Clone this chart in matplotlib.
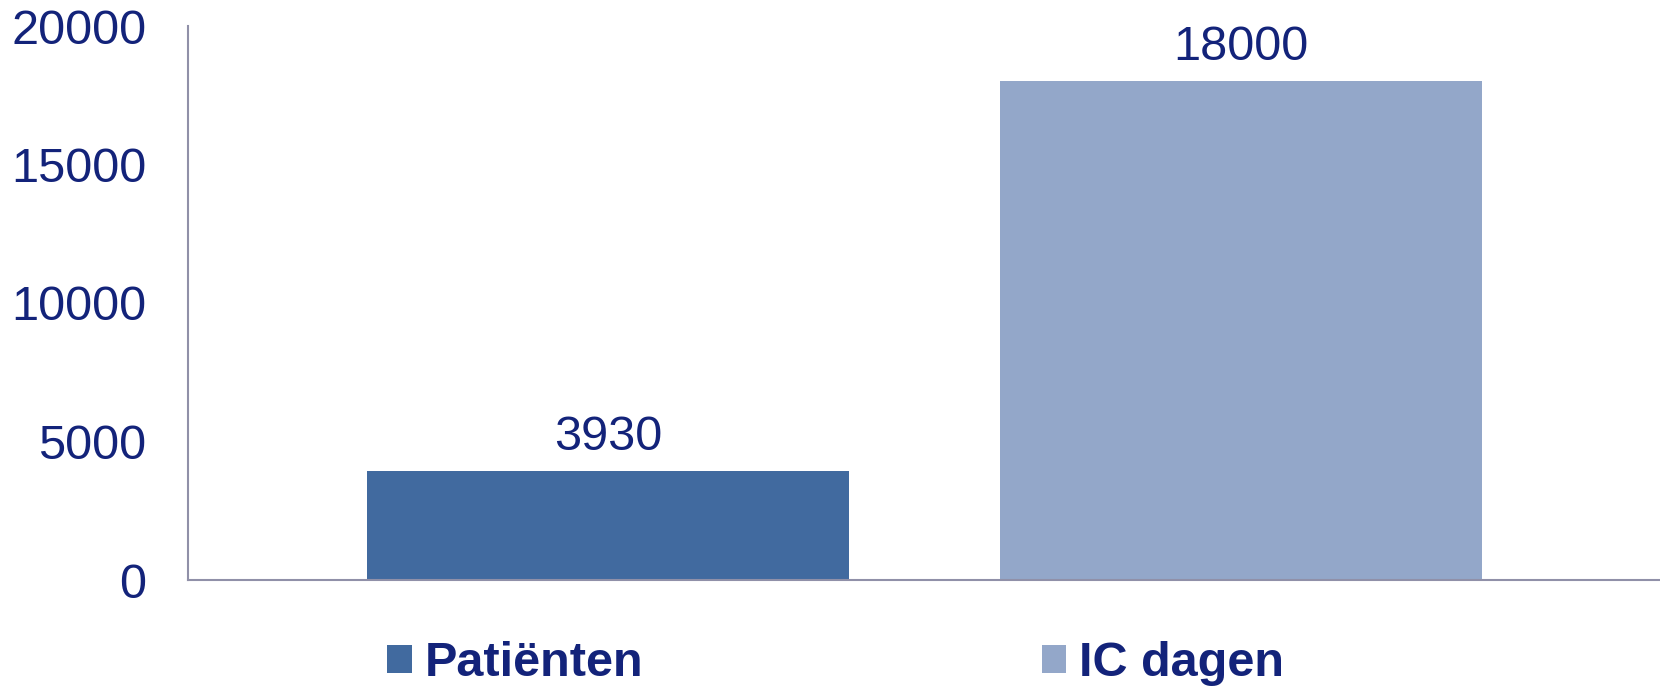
import matplotlib
matplotlib.use("Agg")
import matplotlib.pyplot as plt

series = ["Patiënten", "IC dagen"]
values = [3930, 18000]
colors = ["#416A9F", "#93A7C9"]
yticks = [0, 5000, 10000, 15000, 20000]

NAVY = "#13237A"
AXIS = "#9090A8"
plt.rcParams['font.family'] = ['Liberation Sans', 'DejaVu Sans']
FS = 35

fig = plt.figure(figsize=(16.6, 6.87), dpi=100)
ax = fig.add_axes([188/1660, 1-580/687, 1-188/1660, (580-26)/687])

bars = []
for i, (name, v, c) in enumerate(zip(series, values, colors)):
    b = ax.bar(i, v, width=0.761, color=c, label=name, zorder=2)
    bars.append(b)
    ax.annotate(f"{v}", (i, v), xytext=(0, 8), textcoords="offset points",
                ha="center", va="bottom", fontsize=FS, color=NAVY)

ax.set_xlim(-0.663, 1.661)
ax.set_ylim(0, 20000)
ax.set_yticks(yticks)
ax.set_yticklabels([str(t) for t in yticks], fontsize=FS, color=NAVY)
ax.tick_params(axis="y", length=0, pad=30)
ax.set_xticks([])
for s in ["top", "right"]:
    ax.spines[s].set_visible(False)
for s in ["left", "bottom"]:
    ax.spines[s].set_color(AXIS)
    ax.spines[s].set_linewidth(1.5)

leg = fig.legend(handles=[b[0] for b in bars], labels=series, loc="center",
                 bbox_to_anchor=(0.5035, 1-664/687), ncol=2, frameon=False,
                 prop={"size": FS, "weight": "bold"}, handlelength=0.5,
                 handleheight=0.5, handletextpad=0.27, columnspacing=8.2,
                 borderpad=0, borderaxespad=0)
for t in leg.get_texts():
    t.set_color(NAVY)

fig.savefig("out.png", dpi=100)
